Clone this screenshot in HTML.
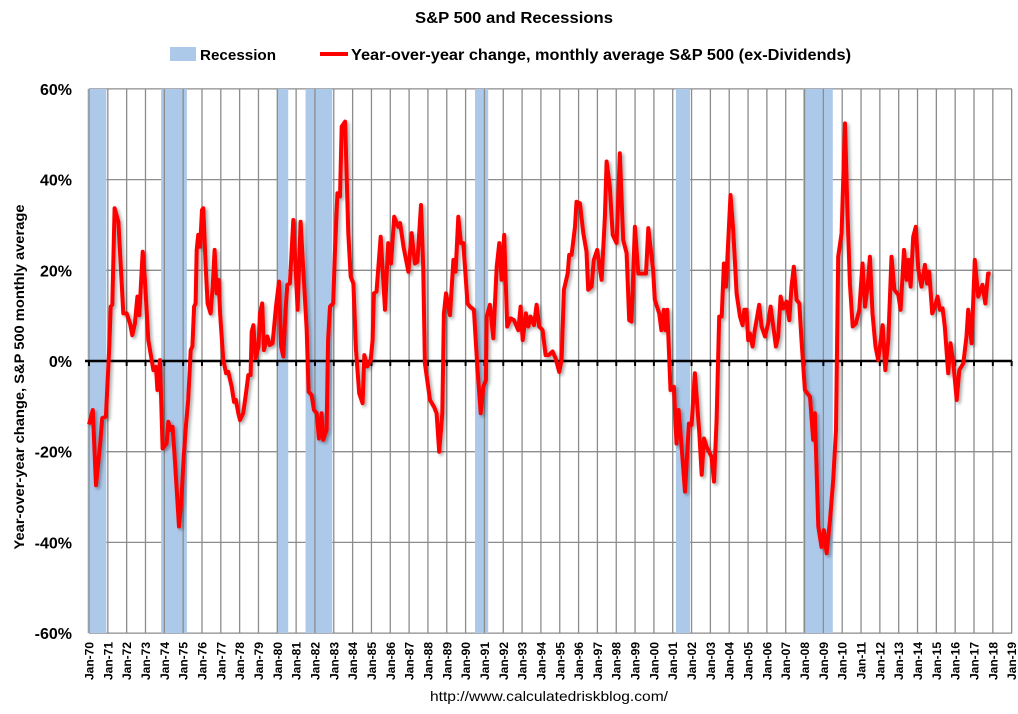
<!DOCTYPE html>
<html><head><meta charset="utf-8"><style>
body{margin:0;background:#fff;}
svg{display:block;font-family:"Liberation Sans",Arial,sans-serif;}
</style></head><body>
<svg id="chart" width="1018" height="714" viewBox="0 0 1018 714" xmlns="http://www.w3.org/2000/svg">
<defs><filter id="sh" x="-5%" y="-5%" width="110%" height="110%"><feDropShadow dx="2" dy="2" stdDeviation="1.5" flood-color="#000" flood-opacity="0.35"/></filter></defs>
<text x="514" y="23" text-anchor="middle" font-size="16" font-weight="bold" textLength="198" lengthAdjust="spacingAndGlyphs">S&amp;P 500 and Recessions</text>
<g>
<rect x="170" y="47" width="26" height="14" fill="#adc9ea"/>
<text x="200" y="60" font-size="15" font-weight="bold" textLength="76" lengthAdjust="spacingAndGlyphs">Recession</text>
<line x1="320" y1="54" x2="348" y2="54" stroke="#f00" stroke-width="4"/>
<text x="351" y="60" font-size="15.5" font-weight="bold" textLength="500" lengthAdjust="spacingAndGlyphs">Year-over-year change, monthly average S&amp;P 500 (ex-Dividends)</text>
</g>
<text transform="translate(24,377) rotate(-90)" text-anchor="middle" font-size="14" font-weight="bold" textLength="345" lengthAdjust="spacingAndGlyphs">Year-over-year change, S&amp;P 500 monthly average</text>
<text x="549" y="701" text-anchor="middle" font-size="14" textLength="238" lengthAdjust="spacingAndGlyphs">http://www.calculatedriskblog.com/</text>
<g id="plot"></g>
</svg>
<script>
const recStart=[1969.92,1973.83,1980.0,1981.5,1990.5,2001.17,2007.92];
const recEnd=[1970.92,1975.2,1980.58,1982.92,1991.2,2001.92,2009.5];
const yTicks=[60,40,20,0,-20,-40,-60];
const yearLabels=[];for(let y=1970;y<=2019;y++)yearLabels.push('Jan-'+String(y%100).padStart(2,'0'));
const dates=[1970.0,70.2,70.37,70.6,70.7,70.9,71.08,71.15,71.24,71.36,71.56,71.82,72.0,72.18,72.3,72.44,72.57,72.67,72.85,72.97,73.15,73.42,73.56,73.63,73.77,73.91,74.12,74.21,74.34,74.44,74.57,74.78,74.92,75.04,75.15,75.27,75.4,75.49,75.58,75.66,75.72,75.8,75.9,76.0,76.07,76.2,76.3,76.46,76.57,76.67,76.78,76.88,76.96,77.13,77.28,77.4,77.58,77.7,77.8,77.93,78.02,78.19,78.34,78.46,78.58,78.64,78.73,78.85,79.0,79.08,79.2,79.29,79.47,79.6,79.75,79.93,80.09,80.2,80.32,80.44,80.53,80.67,80.85,80.96,81.08,81.24,81.38,81.56,81.66,81.82,81.95,82.09,82.21,82.35,82.44,82.62,82.7,82.8,82.97,83.06,83.19,83.33,83.42,83.6,83.77,83.9,84.04,84.18,84.35,84.53,84.62,84.78,84.96,85.06,85.13,85.27,85.49,85.72,85.89,86.04,86.21,86.42,86.52,86.7,86.96,87.13,87.31,87.44,87.63,87.75,87.84,88.11,88.32,88.46,88.6,88.76,88.85,88.96,89.17,89.35,89.47,89.61,89.75,89.88,90.1,90.23,90.44,90.62,90.8,90.94,91.08,91.12,91.29,91.47,91.65,91.79,91.91,92.05,92.21,92.39,92.57,92.8,92.92,93.03,93.2,93.33,93.45,93.63,93.77,93.91,94.09,94.25,94.42,94.62,94.78,94.97,95.1,95.22,95.42,95.5,95.63,95.81,95.89,96.07,96.25,96.42,96.51,96.69,96.81,96.99,97.1,97.22,97.4,97.49,97.66,97.81,98.02,98.19,98.37,98.55,98.69,98.81,98.99,99.17,99.43,99.58,99.7,99.96,100.05,100.28,100.4,100.53,100.62,100.71,100.88,101.06,101.2,101.31,101.47,101.65,101.86,102.0,102.18,102.41,102.54,102.66,102.8,103.06,103.19,103.33,103.47,103.6,103.72,103.83,104.07,104.21,104.39,104.57,104.71,104.8,104.92,105.01,105.1,105.24,105.36,105.59,105.72,105.9,106.07,106.2,106.34,106.48,106.6,106.73,106.87,107.04,107.19,107.31,107.43,107.58,107.72,107.84,108.02,108.29,108.46,108.55,108.73,108.9,109.03,109.17,109.35,109.52,109.67,109.79,109.97,110.15,110.27,110.41,110.56,110.73,110.91,111.08,111.21,111.35,111.47,111.61,111.77,111.91,112.15,112.29,112.45,112.62,112.77,112.98,113.1,113.28,113.42,113.52,113.63,113.77,113.91,114.04,114.21,114.39,114.51,114.62,114.78,114.92,115.06,115.19,115.33,115.45,115.63,115.75,115.9,116.08,116.22,116.43,116.6,116.69,116.87,117.04,117.22,117.45,117.6,117.75,117.88];
const values=[-14,-10.8,-27.4,-18,-12.6,-12.3,3.2,12,12.4,33.7,30.7,10.5,10.5,8.3,5.7,8.3,14.2,10.1,24.1,17.9,4.6,-2,-1.3,-6.4,0.2,-19.3,-18.2,-13.4,-15.2,-14.5,-22.6,-36.5,-29.9,-20.4,-14.1,-8.6,2.4,3.2,12,12.7,24.5,27.8,25.2,33.3,33.7,20.8,12.7,10.5,16.4,24.5,14.9,17.9,10.5,0.2,-2.7,-2.4,-5.7,-9,-8.6,-11.5,-13,-11.5,-7.1,-3.1,-3.1,6.5,7.9,0.6,3.2,10.5,12.7,2.4,5.4,3.5,3.9,12,17.5,3.2,1,11.3,16.8,17.1,31.1,21.5,11.3,30.7,20.1,6.8,-6.8,-7.5,-10.8,-11.5,-17.1,-11.5,-17.4,-15.2,4.6,12,12.7,23.8,37,36.3,51.7,52.8,28.2,18.6,17.1,2.4,-7.1,-9.3,1.3,-1.2,0.2,4.6,14.9,15.3,27.4,11.3,26,21.5,31.8,29.6,30.4,25.2,19.7,28.2,21.5,21.9,34.4,20.8,-0.5,-8.6,-10.1,-11.5,-20,-11.5,10.5,14.9,10.1,22.3,19.7,31.8,26,26,12.7,12,11.3,-1.2,-11.5,-5.7,-4.2,9.8,12.4,5,20.8,26,17.9,27.8,7.6,9.4,9,6.8,12,4.6,10.5,7.6,9.8,7.9,12.4,7.6,6.8,1.3,1.3,2.1,0.6,-2.4,0.2,15.7,19.3,23.4,23.4,29.6,35.1,34.8,28.2,24.1,15.7,16.4,22.3,24.5,21.2,17.9,31.8,44,38.5,27.8,26,45.8,26.7,23.8,9,8.7,29.6,19.3,19.3,19.3,29.3,20.1,13.5,10.5,6.8,11.3,6.8,11.3,-6.4,-5.7,-18.2,-10.8,-18.9,-28.8,-13.8,-14.1,-2.7,-15.9,-25.1,-17.1,-18.9,-21.1,-26.6,-13,9.8,9.8,21.5,16.4,36.6,28.9,14.9,9.8,7.9,11.3,11.3,4.6,6.1,3.2,6.8,12.4,7.6,5.4,8.3,12,7.6,3.2,5.4,14.2,11.6,13.1,9,16.4,20.8,13.5,12.7,4.6,-6.4,-7.9,-17.4,-11.5,-36.5,-41,-37.3,-42.4,-35.1,-26.3,-15.2,23,28.2,52.4,34,17.1,7.6,8.3,11.3,21.5,12,16.4,23,10.5,3.2,0.2,7.9,-2,4.6,23,15.7,14.6,11.3,24.5,17.9,22.3,16.4,27.4,29.6,20.1,16.4,21.2,17.1,19.7,10.5,11.9,14.2,11.3,11.6,7.6,-2.7,3.9,-0.4,-8.6,-2,-0.5,5.4,11.3,3.9,22.3,14.2,16.8,12.7,19.3,19.3];

const NS='http://www.w3.org/2000/svg';
const g=document.getElementById('plot');
const X0=89,PXY=18.83,Y0=361,PXV=4.535;
const xs=d=>{const yr=d<1900?1900+d:d;return X0+(yr-1970)*PXY;};
const ys=v=>Y0-v*PXV;
function mk(tag,attrs,parent){const e=document.createElementNS(NS,tag);for(const k in attrs)e.setAttribute(k,attrs[k]);(parent||g).appendChild(e);return e;}

yTicks.forEach(t=>{
  if(t===0)return;
  const l=mk('line',{x1:X0,x2:1012,y1:ys(t),y2:ys(t),stroke:'#8c8c8c','stroke-width':1.3});
  
  
});
recStart.forEach((s,i)=>{
  const r=mk('rect',{x:xs(s),y:ys(60),width:xs(recEnd[i])-xs(s),height:ys(-60)-ys(60),fill:'#adc9ea'});
  
  
});
yearLabels.forEach((lab,i)=>{
  const x=X0+i*PXY;
  const l=mk('line',{x1:x,x2:x,y1:ys(60),y2:ys(-60),stroke:'#8c8c8c','stroke-width':1.3});
  
  
  const tk=mk('line',{x1:x,x2:x,y1:Y0,y2:Y0+5,stroke:'#000','stroke-width':2});
  
  
  const t=mk('text',{transform:`translate(${x+4.5},642) rotate(-90)`,'text-anchor':'end','font-size':12,'font-weight':'bold'});
  t.textContent=lab;
  
  
});
yTicks.forEach(t=>{
  const e=mk('text',{x:72,y:ys(t)+6,'text-anchor':'end','font-size':16,'font-weight':'bold'});
  e.textContent=t+'%';
  
  
});
const z=mk('line',{x1:X0-4,x2:1012,y1:Y0,y2:Y0,stroke:'#000','stroke-width':2.5});


const pts=dates.map((d,i)=>xs(d).toFixed(1)+','+ys(values[i]).toFixed(1)).join(' ');
const pl=mk('polyline',{points:pts,fill:'none',stroke:'#ff0000','stroke-width':4,'stroke-linejoin':'round',filter:'url(#sh)'});


</script>
</body></html>
